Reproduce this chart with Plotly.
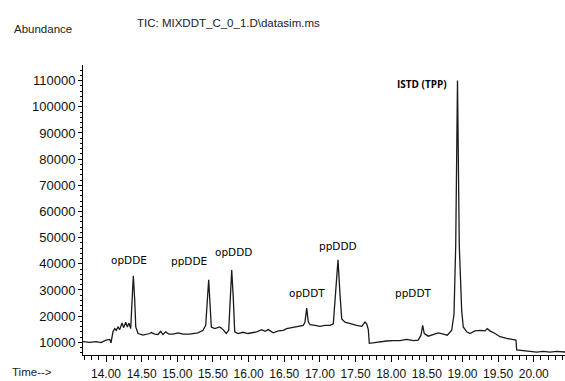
import plotly.graph_objects as go

# Retention time (min) and abundance
time_min = [13.677, 13.771, 13.864, 13.930, 14.000, 14.052, 14.070, 14.098, 14.122, 14.144,
            14.168, 14.192, 14.224, 14.248, 14.276, 14.299, 14.323, 14.346, 14.365, 14.383,
            14.403, 14.417, 14.449, 14.519, 14.613, 14.635, 14.683, 14.729, 14.767, 14.799,
            14.837, 14.884, 14.940, 15.010, 15.080, 15.174, 15.290, 15.360, 15.398, 15.421,
            15.440, 15.459, 15.477, 15.525, 15.595, 15.641, 15.687, 15.721, 15.739, 15.763,
            15.785, 15.805, 15.851, 15.921, 15.992, 16.062, 16.114, 16.184, 16.230, 16.276,
            16.346, 16.417, 16.487, 16.534, 16.604, 16.675, 16.767, 16.791, 16.815, 16.838,
            16.861, 16.931, 17.001, 17.071, 17.142, 17.188, 17.222, 17.254, 17.282, 17.306,
            17.352, 17.422, 17.516, 17.586, 17.633, 17.656, 17.679, 17.693, 17.749, 17.843,
            17.937, 18.029, 18.123, 18.217, 18.310, 18.380, 18.418, 18.442, 18.464, 18.520,
            18.591, 18.661, 18.731, 18.787, 18.849, 18.881, 18.905, 18.930, 18.955, 18.989,
            19.011, 19.059, 19.105, 19.175, 19.246, 19.316, 19.348, 19.386, 19.456, 19.526,
            19.620, 19.712, 19.750, 19.760, 19.853, 19.947, 20.040, 20.133, 20.227, 20.321,
            20.391, 20.438]
abundance = [10260, 10000, 10260, 9890, 10860, 11120, 9810, 14100, 15220, 14590,
             15860, 14850, 17350, 15600, 17720, 15860, 17350, 15220, 25780, 35400,
             25780, 15860, 13360, 12720, 13360, 13730, 13100, 12980, 14220, 12980,
             13990, 13100, 13100, 13620, 13100, 13100, 13620, 14590, 16450, 24550,
             33880, 24550, 15860, 15220, 15860, 14850, 13360, 14590, 27050, 37610,
             27050, 13990, 13360, 13840, 13360, 13730, 13990, 14850, 14220, 14850,
             13620, 14370, 14590, 15220, 15600, 15860, 16450, 17720, 23060, 17720,
             16720, 16450, 16080, 16450, 16450, 17090, 28280, 41500, 28280, 18950,
             17720, 17090, 16450, 16080, 17720, 17090, 14850, 9630, 9890, 10260,
             10490, 10630, 10630, 11120, 10630, 10860, 12720, 16450, 13360, 12350,
             12980, 13620, 13100, 12720, 14590, 20820, 46940, 110000, 46940, 22050,
             15860, 13990, 13360, 14370, 14590, 14370, 15220, 14370, 13360, 12130,
             11490, 10860, 10860, 7130, 6900, 6530, 6270, 6530, 6270, 6530,
             6270, 6300]

# Peak labels
peak_names = ["opDDE", "ppDDE", "opDDD", "opDDT", "ppDDD", "ppDDT"]
peak_label_t = [14.323, 15.164, 15.795, 16.819, 17.254, 18.306]
peak_label_a = [41340, 40970, 44330, 29030, 46940, 29030]
istd_name = "ISTD (TPP)"
istd_t = 18.432
istd_a = 108870

x_ticks = [14.0, 14.5, 15.0, 15.5, 16.0, 16.5, 17.0, 17.5, 18.0, 18.5, 19.0, 19.5, 20.0]
x_tick_text = ["14.00", "14.50", "15.00", "15.50", "16.00", "16.50", "17.00",
               "17.50", "18.00", "18.50", "19.00", "19.50", "20.00"]
y_ticks = [10000, 20000, 30000, 40000, 50000, 60000, 70000, 80000, 90000, 100000, 110000]

fig = go.Figure()
fig.add_trace(go.Scatter(x=time_min, y=abundance, mode="lines",
                         line=dict(color="#1a1a1a", width=1.3), hoverinfo="skip"))

for name, t, a in zip(peak_names, peak_label_t, peak_label_a):
    fig.add_annotation(x=t, y=a, text=name, showarrow=False, xanchor="center", yanchor="middle",
                       font=dict(family="DejaVu Sans", size=10.5, color="#000"))
fig.add_annotation(x=istd_t, y=istd_a, text="<b>" + istd_name + "</b>", showarrow=False,
                   xanchor="center", yanchor="middle",
                   font=dict(family="Open Sans", size=10, color="#000"))

fig.add_annotation(xref="paper", yref="paper", x=-0.1473, y=1.1246, text="Abundance",
                   showarrow=False, xanchor="left", yanchor="middle",
                   font=dict(family="Liberation Sans", size=11.5, color="#222"))
fig.add_annotation(xref="paper", yref="paper", x=0.1079, y=1.1448,
                   text="TIC: MIXDDT_C_0_1.D\\datasim.ms",
                   showarrow=False, xanchor="left", yanchor="middle",
                   font=dict(family="Liberation Sans", size=11.5, color="#222"))
fig.add_annotation(xref="paper", yref="paper", x=-0.1515, y=-0.058, text="Time-->",
                   showarrow=False, xanchor="left", yanchor="middle",
                   font=dict(family="Liberation Sans", size=11.5, color="#222"))

fig.update_layout(
    width=565, height=381, autosize=False,
    margin=dict(l=83, r=0, t=65, b=19, pad=0),
    paper_bgcolor="white", plot_bgcolor="white",
    showlegend=False,
    xaxis=dict(range=[13.677, 20.438], tickmode="array", tickvals=x_ticks, ticktext=x_tick_text,
               showgrid=False, zeroline=False, showline=True, linecolor="#000", linewidth=1,
               ticks="outside", ticklen=6, tickcolor="#000", tickwidth=1,
               ticklabelstandoff=2,
               minor=dict(dtick=0.1, ticks="outside", ticklen=4, tickcolor="#000", showgrid=False),
               tickfont=dict(family="Liberation Sans", size=12, color="#111")),
    yaxis=dict(range=[5149, 115970], tickmode="array", tickvals=y_ticks, tickformat="d",
               showgrid=False, zeroline=False, showline=True, linecolor="#000", linewidth=1,
               ticks="outside", ticklen=4, tickcolor="#000", tickwidth=1,
               minor=dict(dtick=2000, ticks="outside", ticklen=2, tickcolor="#000", showgrid=False),
               tickfont=dict(family="Liberation Sans", size=13, color="#111")),
)

fig.write_html("out.html", config={"displayModeBar": False},
               post_script="document.body.style.margin='0';document.body.style.overflow='hidden';")
